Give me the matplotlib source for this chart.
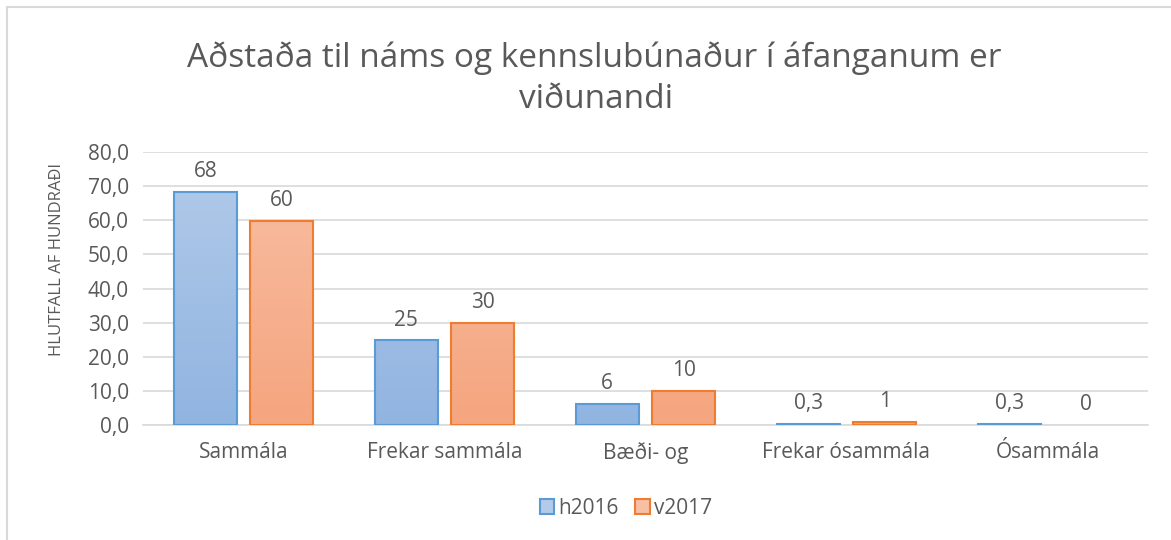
import matplotlib
matplotlib.use("Agg")
import matplotlib.pyplot as plt
import numpy as np
from matplotlib.patches import Rectangle

categories = ["Sammála", "Frekar sammála", "Bæði- og", "Frekar ósammála", "Ósammála"]
series_names = ["h2016", "v2017"]
h2016 = [68.3, 24.8, 6.3, 0.3, 0.3]
v2017 = [59.8, 29.9, 9.9, 1.0, 0.0]
h2016_labels = ["68", "25", "6", "0,3", "0,3"]
v2017_labels = ["60", "30", "10", "1", "0"]
yticks = [0, 10, 20, 30, 40, 50, 60, 70, 80]
ytick_labels = ["0,0", "10,0", "20,0", "30,0", "40,0", "50,0", "60,0", "70,0", "80,0"]

FONT = "Open Sans"
TXT = "#595959"
plt.rcParams["font.family"] = [FONT, "DejaVu Sans"]

fig = plt.figure(figsize=(11.71, 5.40), dpi=100)
W, H = 1171, 540
ax = fig.add_axes([143 / W, 1 - 425 / H, (1148 - 143) / W, (425 - 152) / H])

# chart frame
fig.add_artist(Rectangle((7 / W, -0.1), 1.2, 1 - 7 / H + 0.1, transform=fig.transFigure,
                         fill=False, edgecolor="#d9d9d9", linewidth=1.5))

x = np.arange(len(categories))
bw = 0.313
off = 0.19

styles = [
    dict(top="#b3cbe9", bot="#91b4e1", edge="#5b9bd5"),
    dict(top="#f8bfa4", bot="#f5a57f", edge="#ed7d31"),
]

def grad_bars(bars, st):
    c1 = np.array(matplotlib.colors.to_rgb(st["top"]))
    c2 = np.array(matplotlib.colors.to_rgb(st["bot"]))
    for b in bars:
        h = b.get_height()
        if h <= 0:
            b.set_visible(False)
            continue
        x0 = b.get_x(); w = b.get_width()
        t = np.linspace(0, 1, 100)[:, None]
        img = (c1 * (1 - t) + c2 * t)[:, None, :]
        img = np.repeat(img, 2, axis=1)
        im = ax.imshow(img, extent=[x0, x0 + w, 0, 80], aspect="auto", origin="upper", zorder=2)
        im.set_clip_path(b)
        b.set_facecolor("none")

b1 = ax.bar(x - off, h2016, bw, edgecolor=styles[0]["edge"], linewidth=1.5, zorder=3, facecolor=styles[0]["top"])
b2 = ax.bar(x + off, v2017, bw, edgecolor=styles[1]["edge"], linewidth=1.5, zorder=3, facecolor=styles[1]["top"])
grad_bars(b1, styles[0])
grad_bars(b2, styles[1])

for bars, labels in ((b1, h2016_labels), (b2, v2017_labels)):
    for b, lab in zip(bars, labels):
        ax.annotate(lab, (b.get_x() + b.get_width() / 2, b.get_height()), xytext=(0, 7),
                    textcoords="offset points", ha="center", va="bottom", fontsize=15, color=TXT)

ax.set_xlim(-0.5, len(categories) - 0.5)
ax.set_ylim(0, 80)
ax.set_yticks(yticks)
ax.set_yticklabels(ytick_labels, fontsize=15, color=TXT)
ax.set_xticks(x)
ax.set_xticklabels(categories, fontsize=15, color=TXT)
ax.tick_params(length=0, pad=10)
ax.tick_params(axis="x", pad=12)
ax.yaxis.grid(True, color="#d9d9d9", linewidth=1.2, zorder=0)
ax.set_axisbelow(True)
for s in ["top", "right", "left"]:
    ax.spines[s].set_visible(False)
ax.spines["bottom"].set_color("#d9d9d9")
ax.spines["bottom"].set_linewidth(1.2)

fig.text(57 / W, 1 - 259 / H, "HLUTFALL AF HUNDRAÐI", rotation=90, ha="center", va="center",
         fontsize=12, color=TXT)

fig.text(594 / W, 1 - 58 / H, "Aðstaða til náms og kennslubúnaður í áfanganum er", ha="center",
         va="center", fontsize=24, color=TXT)
fig.text(596 / W, 1 - 100 / H, "viðunandi", ha="center", va="center", fontsize=24, color=TXT)

handles = [Rectangle((0, 0), 1, 1, facecolor=st["top"], edgecolor=st["edge"], linewidth=1.5) for st in styles]
leg = fig.legend(handles, series_names, loc="center", bbox_to_anchor=(626 / W, 1 - 508 / H), ncol=2,
                 frameon=False, fontsize=15, handlelength=0.7, handleheight=0.7, handletextpad=0.2,
                 columnspacing=0.8)
for t in leg.get_texts():
    t.set_color(TXT)

fig.savefig("out.png", dpi=100)
